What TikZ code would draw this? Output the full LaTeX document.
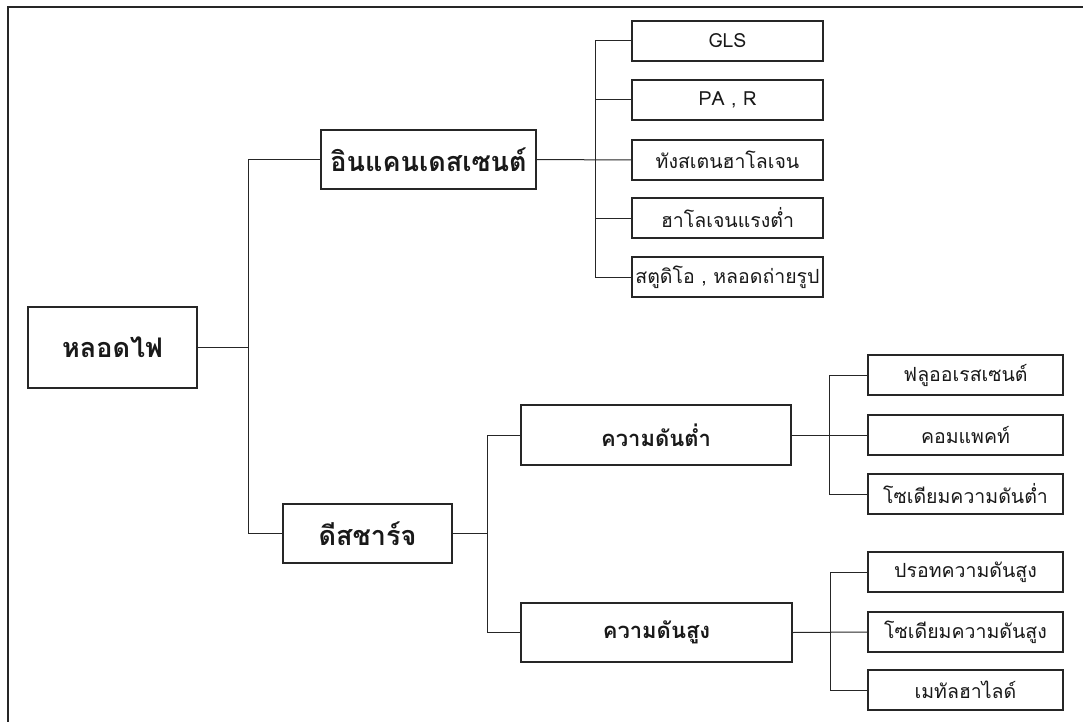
\documentclass[tikz,border=0pt]{standalone}
\usepackage{fontspec}
\setmainfont[Script=Thai]{Loma}
\begin{document}
\begin{tikzpicture}[x=1pt,y=-1pt,
  box/.style={draw=black!85, line width=1.2pt, inner sep=0pt, align=center, text=black!90},
  mainbox/.style={box, font=\bfseries\fontsize{27}{30}\selectfont},
  midbox/.style={box, font=\bfseries\fontsize{22}{24}\selectfont},
  leaf/.style={box, font=\fontsize{19.5}{22}\selectfont, minimum height=40pt},
  conn/.style={draw=black!85, line width=1pt}]
\useasboundingbox (0,0) rectangle (1083,722);
\draw[line width=2pt, black!85] (8,722) -- (8,7) -- (1083,7);

\node[mainbox, minimum width=169pt, minimum height=81pt] (root) at (112.5,347.5) {หลอดไฟ};
\node[mainbox, minimum width=215pt, minimum height=59pt] (inc) at (428.5,159.5) {อินแคนเดสเซนต์};
\node[mainbox, minimum width=169pt, minimum height=59pt] (dis) at (367.5,533.5) {ดีสชาร์จ};
\node[midbox, minimum width=270pt, minimum height=60pt] (low) at (656,435) {ความดันต่ำ};
\node[midbox, minimum width=271pt, minimum height=59pt] (high) at (656.5,632.5) {ความดันสูง};

\node[leaf, minimum width=191pt] (gls) at (727.5,41) {GLS};
\node[leaf, minimum width=191pt] (par) at (727.5,100) {PA , R};
\node[leaf, minimum width=191pt] (tung) at (727.5,160) {ทังสเตนฮาโลเจน};
\node[leaf, minimum width=191pt] (halo) at (727.5,218) {ฮาโลเจนแรงต่ำ};
\node[leaf, minimum width=191pt] (stud) at (727.5,277) {สตูดิโอ , หลอดถ่ายรูป};

\node[leaf, minimum width=195pt] (fluo) at (965.5,375) {ฟลูออเรสเซนต์};
\node[leaf, minimum width=195pt] (comp) at (965.5,435) {คอมแพคท์};
\node[leaf, minimum width=195pt] (nalow) at (965.5,494) {โซเดียมความดันต่ำ};
\node[leaf, minimum width=195pt] (hg) at (965.5,572) {ปรอทความดันสูง};
\node[leaf, minimum width=195pt] (nahigh) at (965.5,632) {โซเดียมความดันสูง};
\node[leaf, minimum width=195pt] (metal) at (965.5,690) {เมทัลฮาไลด์};

\coordinate (t1) at (248,0);
\coordinate (t2) at (595,0);
\coordinate (t3) at (487,0);
\coordinate (t4) at (829,0);
\coordinate (t5) at (830,0);

\draw[conn] (root.east) -- (root.east -| t1);
\draw[conn] (inc.west) -- (inc.west -| t1) -- (dis.west -| t1) -- (dis.west);

\draw[conn] (inc.east) -- (tung.west);
\draw[conn] (gls.west) -- (gls.west -| t2) -- (stud.west -| t2) -- (stud.west);
\draw[conn] (par.west) -- (par.west -| t2);
\draw[conn] (halo.west) -- (halo.west -| t2);

\draw[conn] (dis.east) -- (dis.east -| t3);
\draw[conn] (low.west) -- (low.west -| t3) -- (high.west -| t3) -- (high.west);

\draw[conn] (low.east) -- (comp.west);
\draw[conn] (fluo.west) -- (fluo.west -| t4) -- (nalow.west -| t4) -- (nalow.west);

\draw[conn] (high.east) -- (nahigh.west);
\draw[conn] (hg.west) -- (hg.west -| t5) -- (metal.west -| t5) -- (metal.west);
\end{tikzpicture}
\end{document}
